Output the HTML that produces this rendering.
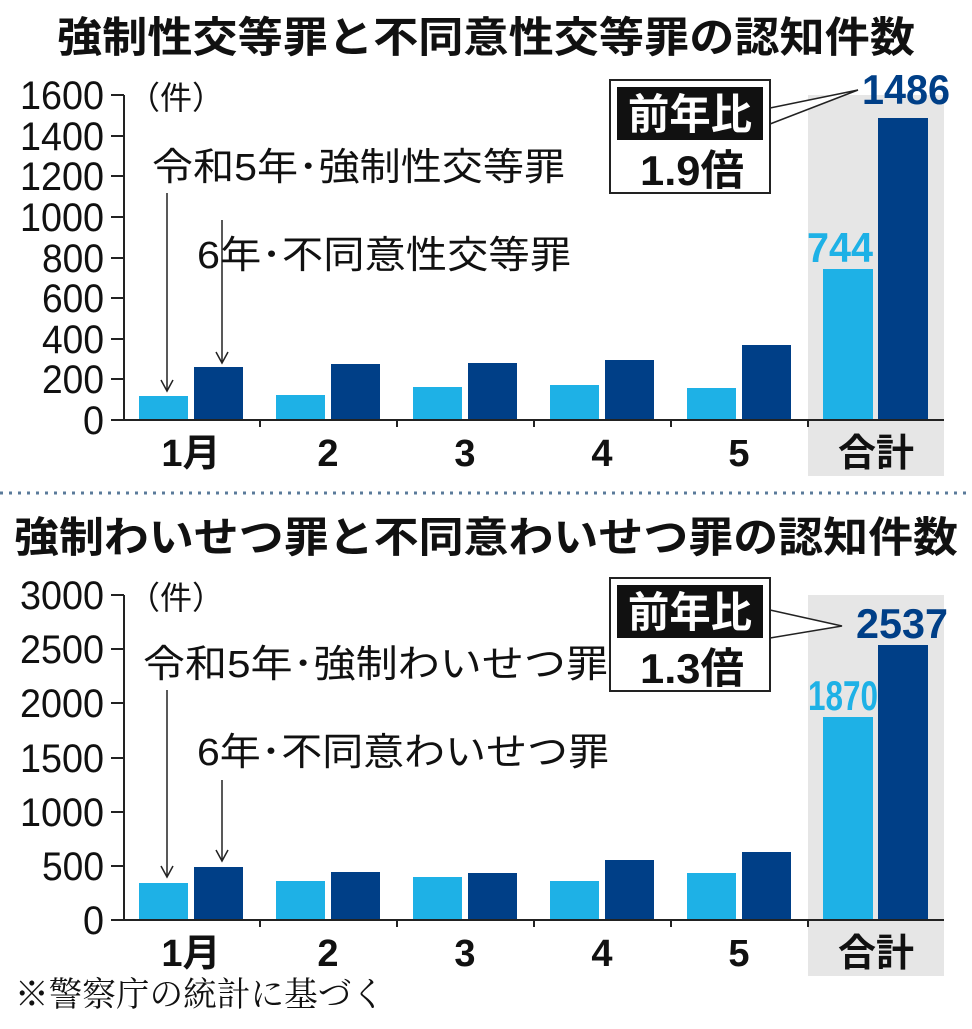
<!DOCTYPE html>
<html><head><meta charset="utf-8"><style>
body{margin:0;background:#fff}
svg text{font-family:"Liberation Sans","Noto Sans CJK JP",sans-serif}
</style></head><body>
<svg width="972" height="1024" viewBox="0 0 972 1024" xmlns="http://www.w3.org/2000/svg">
<!-- Chart 1 -->
<text x="57" y="52" textLength="858" lengthAdjust="spacingAndGlyphs" font-size="42" font-weight="bold" fill="#111">強制性交等罪と不同意性交等罪の認知件数</text>
<rect x="808" y="95" width="136" height="381" fill="#e6e6e6"/>
<g fill="#1eb1e6">
<rect x="139" y="396" width="49" height="24"/><rect x="276" y="395" width="49" height="25"/><rect x="413" y="387" width="49" height="33"/><rect x="550" y="385" width="49" height="35"/><rect x="687" y="388" width="49" height="32"/><rect x="823" y="269" width="50" height="151"/>
</g>
<g fill="#003f87">
<rect x="194" y="367" width="49" height="53"/><rect x="331" y="364" width="49" height="56"/><rect x="468" y="363" width="49" height="57"/><rect x="605" y="360" width="49" height="60"/><rect x="742" y="345" width="49" height="75"/><rect x="878" y="118" width="50" height="302"/>
</g>
<g stroke="#222" stroke-width="2" fill="none">
<path d="M124 95V420H944"/>
<path d="M111 95h13M111 136h13M111 176h13M111 217h13M111 258h13M111 298h13M111 339h13M111 379h13M111 420h13"/>
<path d="M260 420v7M397 420v7M534 420v7M671 420v7M808 420v7"/>
<path d="M167 193V390M222 220V362" stroke-width="1.5"/>
<path d="M161 380l6 11 6-11M216 352l6 11 6-11" stroke-width="1.5"/>
</g>
<g font-size="40" fill="#111">
<text x="20" y="109" textLength="84" lengthAdjust="spacingAndGlyphs">1600</text><text x="20" y="150" textLength="84" lengthAdjust="spacingAndGlyphs">1400</text><text x="20" y="190" textLength="84" lengthAdjust="spacingAndGlyphs">1200</text><text x="20" y="231" textLength="84" lengthAdjust="spacingAndGlyphs">1000</text><text x="42" y="272" textLength="62" lengthAdjust="spacingAndGlyphs">800</text><text x="42" y="312" textLength="62" lengthAdjust="spacingAndGlyphs">600</text><text x="42" y="353" textLength="62" lengthAdjust="spacingAndGlyphs">400</text><text x="42" y="393" textLength="62" lengthAdjust="spacingAndGlyphs">200</text><text x="83" y="434" textLength="21" lengthAdjust="spacingAndGlyphs">0</text>
</g>
<text x="128" y="109" font-size="32" fill="#111">（件）</text>
<text x="152" y="180" textLength="413" lengthAdjust="spacingAndGlyphs" font-size="38" fill="#111">令和5年･強制性交等罪</text>
<text x="197" y="268" textLength="374" lengthAdjust="spacingAndGlyphs" font-size="38" fill="#111">6年･不同意性交等罪</text>
<g font-size="38" font-weight="bold" fill="#111" text-anchor="middle">
<text x="191" y="466">1月</text><text x="328" y="466">2</text><text x="465" y="466">3</text><text x="602" y="466">4</text><text x="739" y="466">5</text><text x="876" y="466">合計</text>
</g>
<text x="807" y="262" textLength="66" lengthAdjust="spacingAndGlyphs" font-size="42" font-weight="bold" fill="#1eb1e6">744</text>
<text x="862" y="104" textLength="88" lengthAdjust="spacingAndGlyphs" font-size="42" font-weight="bold" fill="#003f87">1486</text>
<path d="M770 108L858 90L770 124" fill="#fff" stroke="#222" stroke-width="1.5"/>
<rect x="610" y="80" width="160" height="113" fill="#fff" stroke="#222" stroke-width="2"/>
<rect x="617" y="87" width="146" height="53" fill="#111"/>
<text x="628" y="129" textLength="124" lengthAdjust="spacingAndGlyphs" font-size="42" font-weight="bold" fill="#fff">前年比</text>
<text x="640" y="185" textLength="104" lengthAdjust="spacingAndGlyphs" font-size="42" font-weight="bold" fill="#111">1.9倍</text>

<path d="M0 493H972" stroke="#5a7a9a" stroke-width="3" stroke-dasharray="3 6"/>

<!-- Chart 2 -->
<text x="14" y="552" textLength="944" lengthAdjust="spacingAndGlyphs" font-size="42" font-weight="bold" fill="#111">強制わいせつ罪と不同意わいせつ罪の認知件数</text>
<rect x="808" y="595" width="136" height="381" fill="#e6e6e6"/>
<g fill="#1eb1e6">
<rect x="139" y="883" width="49" height="37"/><rect x="276" y="881" width="49" height="39"/><rect x="413" y="877" width="49" height="43"/><rect x="550" y="881" width="49" height="39"/><rect x="687" y="873" width="49" height="47"/><rect x="823" y="717" width="50" height="203"/>
</g>
<g fill="#003f87">
<rect x="194" y="867" width="49" height="53"/><rect x="331" y="872" width="49" height="48"/><rect x="468" y="873" width="49" height="47"/><rect x="605" y="860" width="49" height="60"/><rect x="742" y="852" width="49" height="68"/><rect x="878" y="645" width="50" height="275"/>
</g>
<g stroke="#222" stroke-width="2" fill="none">
<path d="M124 595V920H944"/>
<path d="M111 595h13M111 649h13M111 703h13M111 758h13M111 812h13M111 866h13M111 920h13"/>
<path d="M260 920v7M397 920v7M534 920v7M671 920v7M808 920v7"/>
<path d="M167 690V876M222 780V860" stroke-width="1.5"/>
<path d="M161 866l6 11 6-11M216 850l6 11 6-11" stroke-width="1.5"/>
</g>
<g font-size="40" fill="#111">
<text x="20" y="609" textLength="84" lengthAdjust="spacingAndGlyphs">3000</text><text x="20" y="663" textLength="84" lengthAdjust="spacingAndGlyphs">2500</text><text x="20" y="717" textLength="84" lengthAdjust="spacingAndGlyphs">2000</text><text x="20" y="772" textLength="84" lengthAdjust="spacingAndGlyphs">1500</text><text x="20" y="826" textLength="84" lengthAdjust="spacingAndGlyphs">1000</text><text x="42" y="880" textLength="62" lengthAdjust="spacingAndGlyphs">500</text><text x="83" y="934" textLength="21" lengthAdjust="spacingAndGlyphs">0</text>
</g>
<text x="128" y="609" font-size="32" fill="#111">（件）</text>
<text x="143" y="677" textLength="465" lengthAdjust="spacingAndGlyphs" font-size="38" fill="#111">令和5年･強制わいせつ罪</text>
<text x="197" y="765" textLength="412" lengthAdjust="spacingAndGlyphs" font-size="38" fill="#111">6年･不同意わいせつ罪</text>
<g font-size="38" font-weight="bold" fill="#111" text-anchor="middle">
<text x="191" y="966">1月</text><text x="328" y="966">2</text><text x="465" y="966">3</text><text x="602" y="966">4</text><text x="739" y="966">5</text><text x="876" y="966">合計</text>
</g>
<text x="808" y="710" textLength="70" lengthAdjust="spacingAndGlyphs" font-size="42" font-weight="bold" fill="#1eb1e6">1870</text>
<text x="856" y="638" textLength="92" lengthAdjust="spacingAndGlyphs" font-size="42" font-weight="bold" fill="#003f87">2537</text>
<path d="M770 610L842 626L770 638" fill="#fff" stroke="#222" stroke-width="1.5"/>
<rect x="610" y="578" width="160" height="113" fill="#fff" stroke="#222" stroke-width="2"/>
<rect x="617" y="585" width="146" height="53" fill="#111"/>
<text x="628" y="627" textLength="124" lengthAdjust="spacingAndGlyphs" font-size="42" font-weight="bold" fill="#fff">前年比</text>
<text x="640" y="683" textLength="104" lengthAdjust="spacingAndGlyphs" font-size="42" font-weight="bold" fill="#111">1.3倍</text>

<text x="15" y="1006" textLength="370" lengthAdjust="spacingAndGlyphs" font-size="34" fill="#111" style="font-family:'Liberation Serif','Noto Serif CJK SC',serif">※警察庁の統計に基づく</text>
</svg>
</body></html>
